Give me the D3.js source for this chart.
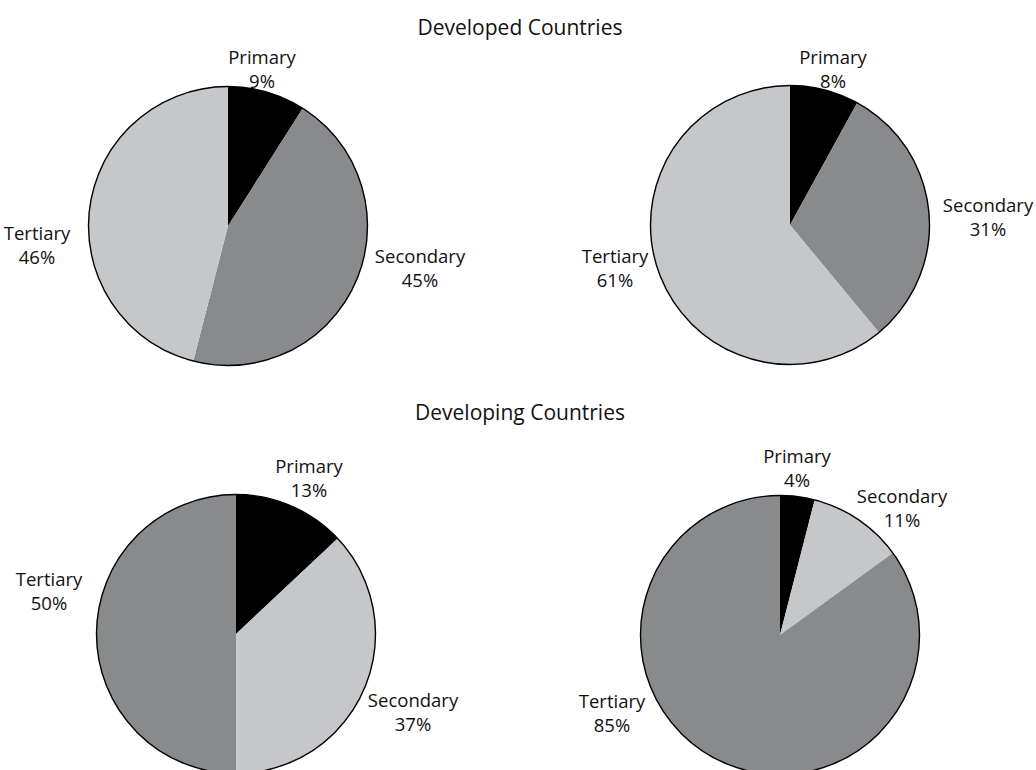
<!DOCTYPE html>
<html>
<head>
<meta charset="utf-8">
<script src="https://cdn.jsdelivr.net/npm/d3@7"></script>
<style>
  body { margin: 0; background: #fff; }
  text { font-family: "Open Sans", sans-serif; font-size: 18.5px; fill: #111; }
  text.title { font-size: 21px; }
</style>
</head>
<body>
<script>
// sectors, clockwise from 12 o'clock
var sectors = ["Primary", "Secondary", "Tertiary"];

// shares (%) for each pie
var developedA = [9, 45, 46];
var developedB = [8, 31, 61];
var developingA = [13, 37, 50];
var developingB = [4, 11, 85];

var groupTitles = ["Developed Countries", "Developing Countries"];

// fills per sector (top row / bottom row swap the two greys)
var fillsTop = ["#000000", "#898a8c", "#c6c7c9"];
var fillsBottom = ["#000000", "#c6c7c9", "#898a8c"];

var width = 1036, height = 770, radius = 139.5;

// pie placement and label offsets (relative to pie centre, first baseline)
var pies = [
    {values: developedA, fills: fillsTop, cx: 228, cy: 226,
     labels: [[34, -162], [192, 37], [-191, 14]]},
    {values: developedB, fills: fillsTop, cx: 790, cy: 225,
     labels: [[43, -161], [198, -13], [-175, 38]]},
    {values: developingA, fills: fillsBottom, cx: 236, cy: 634,
     labels: [[73, -161], [177, 73], [-187, -48]]},
    {values: developingB, fills: fillsBottom, cx: 780, cy: 635,
     labels: [[17, -172], [122, -132], [-168, 73]]}
];

var svg = d3.select("body")
    .append("svg")
    .attr("width", width)
    .attr("height", height);

var pie = d3.pie().sort(null);
var arc = d3.arc().innerRadius(0).outerRadius(radius);

pies.forEach(function(p){
    var g = svg.append("g")
        .attr("transform", "translate(" + p.cx + "," + p.cy + ")");

    g.selectAll(".slice")
        .data(pie(p.values))
        .enter()
        .append("path")
        .attr("class", "slice")
        .attr("d", arc)
        .attr("fill", function(d, i){ return p.fills[i]; });

    //outline only round the rim
    g.append("circle")
        .attr("r", radius)
        .attr("fill", "none")
        .attr("stroke", "#000")
        .attr("stroke-width", 1.4);

    var lab = g.selectAll(".lab")
        .data(p.values)
        .enter()
        .append("text")
        .attr("class", "lab")
        .attr("text-anchor", "middle")
        .attr("transform", function(d, i){
            return "translate(" + p.labels[i][0] + "," + p.labels[i][1] + ")";
        });
    lab.append("tspan")
        .attr("x", 0)
        .text(function(d, i){ return sectors[i]; });
    lab.append("tspan")
        .attr("x", 0)
        .attr("dy", 24)
        .text(function(d){ return d + "%"; });
});

svg.selectAll(".title")
    .data(groupTitles)
    .enter()
    .append("text")
    .attr("class", "title")
    .attr("text-anchor", "middle")
    .attr("x", 520)
    .attr("y", function(d, i){ return i === 0 ? 35 : 420; })
    .text(function(d){ return d; });
</script>
</body>
</html>
